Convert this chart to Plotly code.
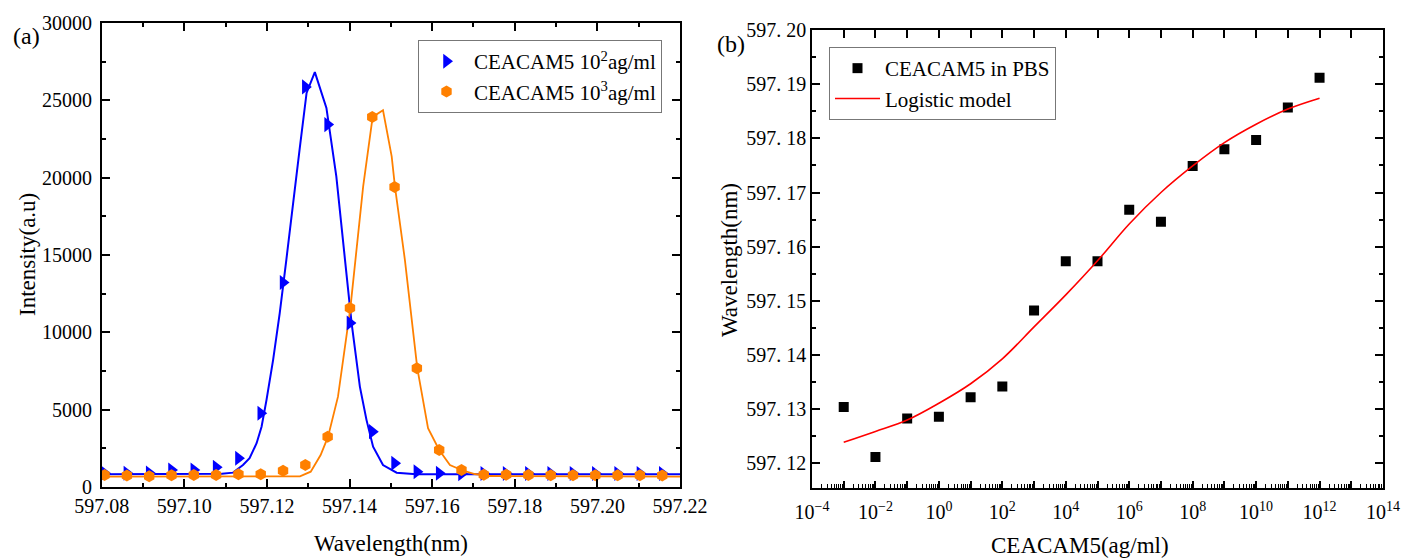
import plotly.graph_objects as go

# ---------------- Panel (a) data ----------------
wavelength = [597.0807, 597.0861, 597.0915, 597.0969, 597.1023, 597.1077, 597.1131,
              597.1185, 597.1239, 597.1293, 597.1347, 597.1401, 597.1455, 597.1509,
              597.1563, 597.1617, 597.1671, 597.1725, 597.1779, 597.1833, 597.1887,
              597.1941, 597.1995, 597.2049, 597.2103, 597.2157]
intensity_1e2 = [890, 890, 910, 1100, 1100, 1280, 1860, 4770, 13220, 25870, 23430, 10600,
                 3580, 1530, 990, 890, 850, 870, 870, 870, 870, 870, 870, 870, 870, 870]
intensity_1e3 = [770, 750, 690, 760, 780, 780, 820, 820, 1055, 1424, 3256, 11566, 23930,
                 19400, 7683, 2395, 1100, 800, 800, 780, 760, 760, 760, 760, 760, 740]

fit_1e2_x = [597.0800, 597.1037, 597.1091, 597.1118, 597.1142, 597.1158, 597.1175, 597.1187,
             597.1199, 597.1215, 597.1231, 597.1247, 597.1263, 597.1280, 597.1296, 597.1316,
             597.1344, 597.1368, 597.1389, 597.1405, 597.1425, 597.1441, 597.1457, 597.1481,
             597.1514, 597.1562, 597.2200]
fit_1e2_y = [820, 820, 850, 930, 1420, 1860, 2830, 3900, 5630, 8220, 11240, 14690, 18360,
             22030, 25480, 26820, 24510, 20080, 14690, 10600, 6490, 4340, 2610, 1420, 925,
             830, 820]

fit_1e3_x = [597.0800, 597.1280, 597.1306, 597.1318, 597.1330, 597.1348, 597.1372, 597.1402,
             597.1417, 597.1433, 597.1456, 597.1481, 597.1502, 597.1510, 597.1534, 597.1554,
             597.1564, 597.1590, 597.1617, 597.1643, 597.1671, 597.1703, 597.1740, 597.2200]
fit_1e3_y = [670, 690, 990, 1530, 2070, 3256, 5840, 11566, 15550, 19440, 23930, 24360, 21380,
             19400, 14690, 9950, 7680, 3800, 2395, 1420, 1100, 840, 710, 670]

x_ticks_a = [597.08, 597.10, 597.12, 597.14, 597.16, 597.18, 597.20, 597.22]
x_ticktext_a = ["597.08", "597.10", "597.12", "597.14", "597.16", "597.18", "597.20", "597.22"]
y_ticks_a = [0, 5000, 10000, 15000, 20000, 25000, 30000]
y_ticktext_a = ["0", "5000", "10000", "15000", "20000", "25000", "30000"]

# ---------------- Panel (b) data ----------------
conc = [1e-3, 1e-2, 1e-1, 1e0, 1e1, 1e2, 1e3, 1e4, 1e5, 1e6, 1e7, 1e8, 1e9, 1e10, 1e11, 1e12]
shift = [597.1304, 597.1212, 597.1283, 597.1286, 597.1322, 597.1342, 597.1482, 597.1573,
         597.1573, 597.1668, 597.1646, 597.1749, 597.1780, 597.1797, 597.1857, 597.1912]
model = [597.1239, 597.1259, 597.1280, 597.1311, 597.1347, 597.1393, 597.1452, 597.1511,
         597.1574, 597.1642, 597.1700, 597.1749, 597.1792, 597.1826, 597.1854, 597.1874]

decades = list(range(-4, 15))
x_ticks_b = [10.0 ** k for k in decades]
x_ticktext_b = [("10<sup>%s</sup>" % (str(k).replace("-", "\u2212")) if k % 2 == 0 else "")
                for k in decades]
x_minor_b = [m * 10.0 ** k for k in range(-4, 14) for m in range(2, 10)]
y_ticks_b = [597.12, 597.13, 597.14, 597.15, 597.16, 597.17, 597.18, 597.19, 597.20]
y_ticktext_b = ["597. 12", "597. 13", "597. 14", "597. 15", "597. 16", "597. 17",
                "597. 18", "597. 19", "597. 20"]

W, H = 1401, 558
FONT = "Liberation Serif"
BLUE = "#0000FF"
ORANGE = "#FF8000"

fig = go.Figure()

# fit lines (a)
fig.add_trace(go.Scatter(x=fit_1e2_x, y=fit_1e2_y, mode="lines", line=dict(color=BLUE, width=2),
                         showlegend=False, xaxis="x", yaxis="y", hoverinfo="skip"))
fig.add_trace(go.Scatter(x=fit_1e3_x, y=fit_1e3_y, mode="lines", line=dict(color=ORANGE, width=1.8),
                         showlegend=False, xaxis="x", yaxis="y", hoverinfo="skip"))
# data (a)
fig.add_trace(go.Scatter(x=wavelength, y=intensity_1e2, mode="markers",
                         marker=dict(symbol="triangle-right", size=13, color=BLUE),
                         name="CEACAM5 10<sup>2</sup>ag/ml", legend="legend", xaxis="x", yaxis="y"))
fig.add_trace(go.Scatter(x=wavelength, y=intensity_1e3, mode="markers",
                         marker=dict(symbol="hexagon", size=12, color=ORANGE),
                         name="CEACAM5 10<sup>3</sup>ag/ml", legend="legend", xaxis="x", yaxis="y"))
# (b)
fig.add_trace(go.Scatter(x=conc, y=shift, mode="markers",
                         marker=dict(symbol="square", size=10, color="black"),
                         name="CEACAM5 in PBS", legend="legend2", xaxis="x2", yaxis="y2"))
fig.add_trace(go.Scatter(x=conc, y=model, mode="lines", line=dict(color="#FF0000", width=1.6, shape="spline"),
                         name="Logistic model", legend="legend2", xaxis="x2", yaxis="y2"))
# invisible trace to carry the minor-tick overlay axis
fig.add_trace(go.Scatter(x=[conc[0]], y=[shift[0]], mode="markers", marker=dict(opacity=0),
                         showlegend=False, xaxis="x3", yaxis="y2", hoverinfo="skip"))

tickfont = dict(family=FONT, size=20, color="black")
common = dict(showline=True, linecolor="black", linewidth=1.6, mirror="ticks", ticks="inside",
              ticklen=8, tickwidth=1.5, tickcolor="black", showgrid=False, zeroline=False,
              tickfont=tickfont, automargin=False)

fig.update_layout(
    width=W, height=H,
    margin=dict(l=0, r=0, t=0, b=0),
    paper_bgcolor="white", plot_bgcolor="white",
    font=dict(family=FONT, color="black"),
    xaxis=dict(domain=[101.7 / W, 680 / W], range=[597.08, 597.22], tickvals=x_ticks_a,
               ticktext=x_ticktext_a, anchor="y",
               minor=dict(dtick=0.01, tick0=597.08, ticks="inside", ticklen=4, tickwidth=1.5,
                          tickcolor="black", showgrid=False), **common),
    yaxis=dict(domain=[1 - 487 / H, 1 - 23 / H], range=[0, 30000], tickvals=y_ticks_a,
               ticktext=y_ticktext_a, anchor="x", ticklabelstandoff=4,
               minor=dict(dtick=2500, tick0=0, ticks="inside", ticklen=4, tickwidth=1.5,
                          tickcolor="black", showgrid=False), **common),
    xaxis2=dict(domain=[812 / W, 1383 / W], type="log", range=[-4, 14], tickvals=x_ticks_b,
                ticktext=x_ticktext_b, anchor="y2", ticklabelstandoff=5, **common),
    xaxis3=dict(type="log", range=[-4, 14], overlaying="x2", anchor="y2", side="bottom",
                tickvals=x_minor_b, showticklabels=False, ticks="inside", ticklen=4, tickwidth=1.2,
                tickcolor="black", showline=False, showgrid=False, zeroline=False),
    yaxis2=dict(domain=[1 - 488.3 / H, 1 - 30 / H], range=[597.1154, 597.20], tickvals=y_ticks_b,
                ticktext=y_ticktext_b, anchor="x2",
                minor=dict(dtick=0.005, tick0=597.12, ticks="inside", ticklen=4, tickwidth=1.5,
                           tickcolor="black", showgrid=False), **common),
    legend=dict(x=418 / W, y=1 - 40 / H, xanchor="left", yanchor="top", bgcolor="white",
                bordercolor="#777777", borderwidth=1, font=dict(family=FONT, size=21, color="black"),
                itemwidth=45, tracegroupgap=0),
    legend2=dict(x=829 / W, y=1 - 47 / H, xanchor="left", yanchor="top", bgcolor="white",
                 bordercolor="#777777", borderwidth=1, font=dict(family=FONT, size=21, color="black"),
                 itemwidth=45, tracegroupgap=0),
)

ann_font = dict(family=FONT, size=23, color="black")
annotations = [
    dict(text="(a)", x=26 / W, y=1 - 36 / H, font=dict(family=FONT, size=24, color="black")),
    dict(text="(b)", x=731 / W, y=1 - 44 / H, font=dict(family=FONT, size=24, color="black")),
    dict(text="Wavelength(nm)", x=391 / W, y=1 - 543 / H, font=ann_font),
    dict(text="CEACAM5(ag/ml)", x=1080 / W, y=1 - 545 / H, font=ann_font),
    dict(text="Intensity(a.u)", x=27 / W, y=1 - 255 / H, textangle=-90, font=ann_font),
    dict(text="Wavelength(nm)", x=729 / W, y=1 - 260 / H, textangle=-90, font=ann_font),
]
for a in annotations:
    a.update(xref="paper", yref="paper", showarrow=False, xanchor="center", yanchor="middle")
fig.update_layout(annotations=annotations)

fig.write_html("out.html", config={"displayModeBar": False},
               post_script="document.body.style.margin='0';document.body.style.padding='0';"
                           "document.body.style.overflow='hidden';")
